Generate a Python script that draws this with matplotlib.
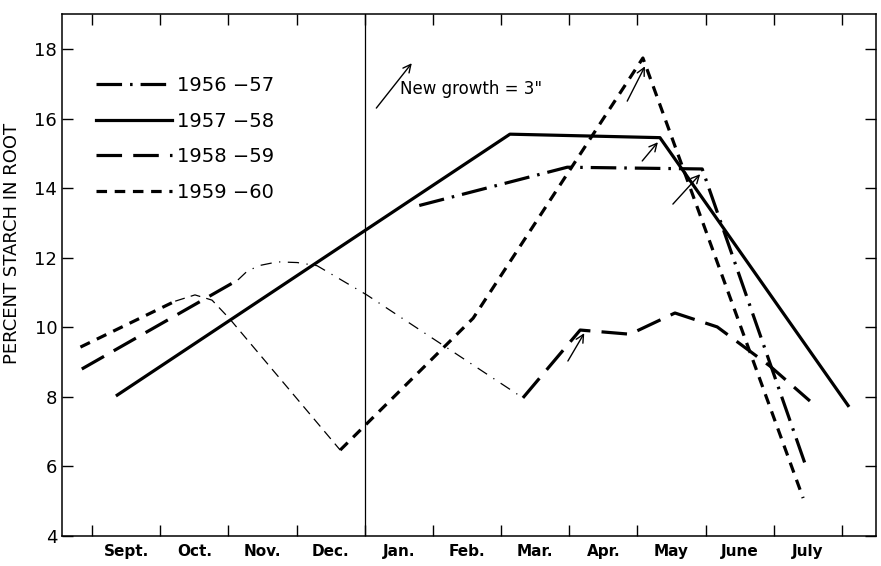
import numpy as np
import matplotlib
matplotlib.use('Agg')
import matplotlib.pyplot as plt
from matplotlib.lines import Line2D

plt.rcParams['font.family'] = ['DejaVu Sans']

months = ['Sept.', 'Oct.', 'Nov.', 'Dec.', 'Jan.', 'Feb.', 'Mar.', 'Apr.', 'May', 'June', 'July']

# month position (0 = middle of Sept.), percent starch
x_5657 = [4.30, 6.47, 8.45, 9.99]
y_5657 = [13.5, 14.6, 14.55, 5.9]

x_5758 = [-0.13, 5.63, 7.83, 10.59]
y_5758 = [8.05, 15.55, 15.45, 7.75]

x_5859a = [-0.65, 1.64]
y_5859a = [8.8, 11.36]
x_5859thin = [1.64, 1.78, 1.97, 2.22, 2.51, 2.80, 3.53, 5.82]
y_5859thin = [11.36, 11.62, 11.78, 11.88, 11.86, 11.77, 10.93, 7.97]
x_5859b = [5.82, 6.66, 7.39, 8.05, 8.67, 9.44, 10.03]
y_5859b = [7.97, 9.92, 9.80, 10.41, 10.01, 8.89, 7.88]

x_5960a = [-0.67, 0.72]
y_5960a = [9.43, 10.75]
x_5960thin = [0.72, 1.01, 1.26, 1.52, 3.14]
y_5960thin = [10.75, 10.93, 10.78, 10.24, 6.47]
x_5960b = [3.14, 5.09, 7.58, 9.93]
y_5960b = [6.47, 10.26, 17.74, 5.09]

labels = ['1956 \u221257', '1957 \u221258', '1958 \u221259', '1959 \u221260']

fig = plt.figure(figsize=(8.81, 5.66), dpi=100)
ax = fig.add_axes([0.0704, 0.053, 0.924, 0.922])

thick = 2.3
thin = 0.9
dashdot = (8, 2.5, 0.8, 2.5)
longdash = (8, 3.5)
shortdash = (3.3, 2.4)

ax.plot(x_5657, y_5657, color='black', lw=thick, dashes=dashdot)
ax.plot(x_5758, y_5758, color='black', lw=thick)
ax.plot(x_5859a, y_5859a, color='black', lw=thick, dashes=longdash)
ax.plot(x_5859thin, y_5859thin, color='black', lw=thin, dashes=(9, 6, 1, 6))
ax.plot(x_5859b, y_5859b, color='black', lw=thick, dashes=longdash)
ax.plot(x_5960a, y_5960a, color='black', lw=thick, dashes=shortdash)
ax.plot(x_5960thin, y_5960thin, color='black', lw=thin, dashes=(8, 5))
ax.plot(x_5960b, y_5960b, color='black', lw=thick, dashes=shortdash)

ax.axvline(3.5, color='black', lw=thin)

# new growth arrows
arrows = [((3.67, 16.30), (4.19, 17.59)),
          ((7.35, 16.5), (7.61, 17.5)),
          ((7.57, 14.78), (7.80, 15.32)),
          ((8.02, 13.54), (8.42, 14.40)),
          ((6.48, 9.03), (6.72, 9.83))]
for tail, head in arrows:
    ax.annotate('', xy=head, xytext=tail,
                arrowprops=dict(arrowstyle='->', color='black', lw=1.0,
                                mutation_scale=14, shrinkA=0, shrinkB=0))
ax.text(4.02, 16.85, 'New growth = 3"', fontsize=12, fontweight='medium',
        va='center', ha='left')

# legend
handles = [Line2D([], [], color='black', lw=thick, dashes=dashdot),
           Line2D([], [], color='black', lw=thick),
           Line2D([], [], color='black', lw=thick, dashes=longdash),
           Line2D([], [], color='black', lw=thick, dashes=shortdash)]
ax.legend(handles, labels, loc='upper left', bbox_to_anchor=(0.02, 0.915),
          frameon=False, fontsize=14, handlelength=3.9, handletextpad=0.3,
          labelspacing=0.85)

ax.set_xlim(-0.94, 11.0)
ax.set_ylim(4, 19)
ax.set_xticks(np.arange(-0.5, 11, 1))
ax.set_xticklabels([])
ax.set_xticks(np.arange(len(months)), minor=True)
ax.set_xticklabels(months, minor=True, fontsize=11, fontweight='bold')
ax.set_yticks(np.arange(4, 19, 2))
ax.tick_params(axis='both', which='major', direction='in', length=8, width=1,
               top=True, right=True, labelsize=13)
ax.tick_params(axis='x', which='minor', length=0, pad=6)
ax.set_ylabel('PERCENT STARCH IN ROOT', fontsize=13)
ax.yaxis.set_label_coords(-0.05, 0.56)
for s in ax.spines.values():
    s.set_linewidth(1.1)

fig.savefig('out.png', dpi=100)
